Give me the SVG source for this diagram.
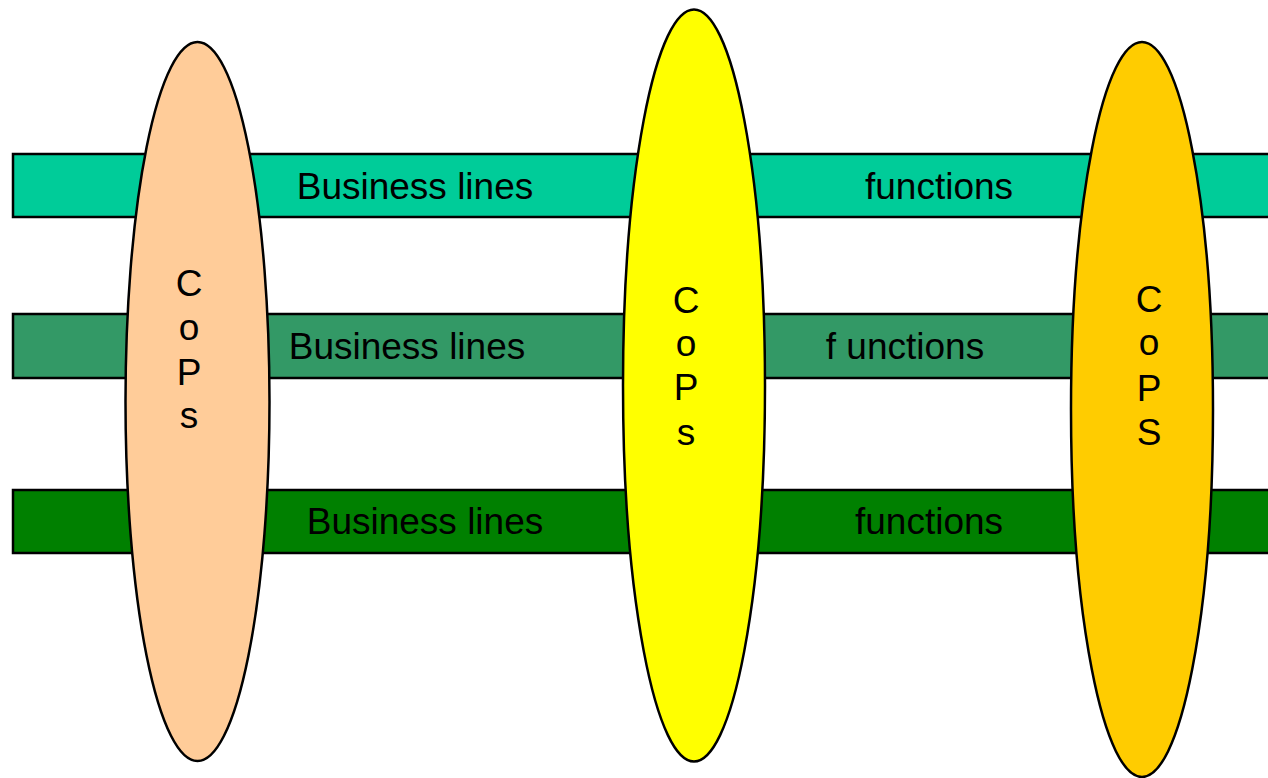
<svg xmlns="http://www.w3.org/2000/svg" width="1268" height="778" viewBox="0 0 1268 778">
<style>
.bar{stroke:#000;stroke-width:2.5}
.cop{stroke:#000;stroke-width:2.5}
text{font-family:"Liberation Sans",Arial,sans-serif;font-size:37px;fill:#000;text-anchor:middle}
</style>
<rect width="1268" height="778" fill="#fff"/>
<g id="bar1">
<rect class="bar" x="13" y="154" width="1270" height="63" fill="#00CC99"/>
<text x="415" y="199">Business lines</text>
<text x="939" y="199">functions</text>
</g>
<g id="bar2">
<rect class="bar" x="13" y="314" width="1270" height="64" fill="#339966"/>
<text x="407" y="359">Business lines</text>
<text x="905" y="359">f unctions</text>
</g>
<g id="bar3">
<rect class="bar" x="13" y="490" width="1270" height="63" fill="#008000"/>
<text x="425" y="534">Business lines</text>
<text x="929" y="534">functions</text>
</g>
<g id="cops1">
<ellipse class="cop" cx="197.5" cy="401.5" rx="72" ry="359.5" fill="#FFCC99"/>
<text x="189" y="296">C</text>
<text x="189" y="340">o</text>
<text x="189" y="385">P</text>
<text x="189" y="428">s</text>
</g>
<g id="cops2">
<ellipse class="cop" cx="694" cy="385.5" rx="71" ry="376" fill="#FFFF00"/>
<text x="686" y="313">C</text>
<text x="686" y="356">o</text>
<text x="686" y="400">P</text>
<text x="686" y="445">s</text>
</g>
<g id="cops3">
<ellipse class="cop" cx="1142" cy="409.5" rx="71" ry="367.5" fill="#FFCC00"/>
<text x="1149" y="312">C</text>
<text x="1149" y="355">o</text>
<text x="1149" y="401">P</text>
<text x="1149" y="445">S</text>
</g>
<g id="connectors"></g>
</svg>
